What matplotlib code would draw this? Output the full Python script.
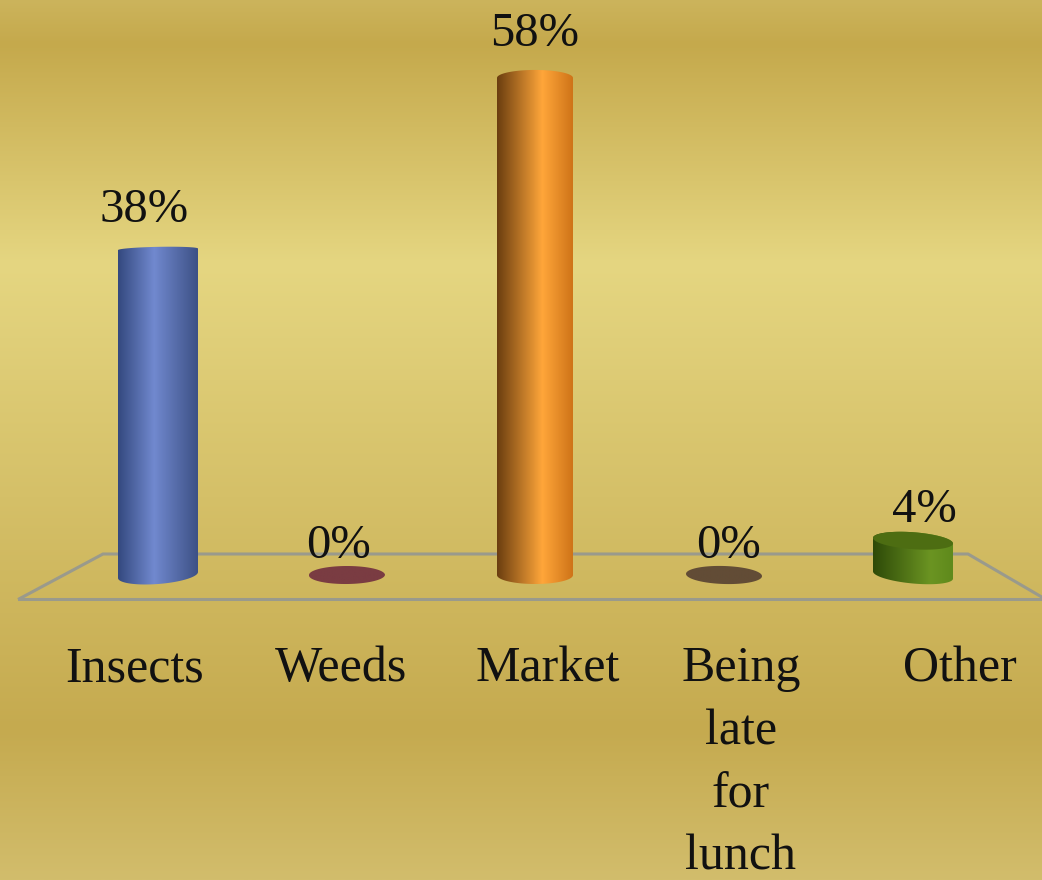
import numpy as np
import matplotlib
matplotlib.use("Agg")
import matplotlib.pyplot as plt
from matplotlib.colors import LinearSegmentedColormap as LSC
from matplotlib.patches import Polygon

categories = ["Insects", "Weeds", "Market", "Being\nlate\nfor\nlunch", "Other"]
values = [38, 0, 58, 0, 4]
labels = ["38%", "0%", "58%", "0%", "4%"]

# styles and layout (pixels of the 1042x880 canvas)
side_colors = [
    ["#34497f", "#7189cf", "#3d5186"],
    ["#7a3c42", "#7a3c42", "#7a3c42"],
    ["#6b3e10", "#ffa63a", "#cf7418"],
    ["#624c36", "#624c36", "#624c36"],
    ["#2e4a08", "#6b9422", "#5f8a1c"],
]
highlight = [0.45, 0.5, 0.6, 0.5, 0.72]
bar_w = [80, 76, 76, 76, 80]
top_semi = [2.5, 9, 8, 9, 8.5]
bot_semi = [9, 9, 9, 9, 8.5]
top_slope = [-0.02, 0, 0, 0.03, 0.07]
bot_slope = [-0.075, -0.01, 0, 0.03, 0.09]
cap_color = [None, None, None, None, "#4d6d12"]
pct_x = [144.5, 338.5, 534.5, 728.5, 924.5]
pct_base = [222, 558, 46, 558, 522]
cat_x = [135, 341, 548, 741, 960]

W, H = 1042, 880
PX_X = 188.5
PX_Y = 8.57
X0, Y0 = 158, 575
center_x = [158, 347, 535, 724, 913]

fig = plt.figure(figsize=(W / 100, H / 100), dpi=100)
ax = fig.add_axes([0, 0, 1, 1])
ext = (-X0 / PX_X, (W - X0) / PX_X, (Y0 - H) / PX_Y, Y0 / PX_Y)
ax.axis("off")


def dx(x):
    return (x - X0) / PX_X


def dy(y):
    return (Y0 - y) / PX_Y


bg = LSC.from_list("bg", [(0, "#ccb45c"), (0.05, "#c5a94c"), (0.3, "#e5d681"),
                          (0.83, "#c5aa4f"), (1, "#d2bd6c")], N=1024)
ax.imshow(np.linspace(0, 1, 880)[:, None], extent=ext, cmap=bg, aspect="auto", zorder=0, origin="upper")

ax.add_patch(Polygon([(dx(18), dy(599.5)), (dx(103), dy(554)), (dx(968), dy(554)), (dx(1046), dy(599.5))],
                     closed=True, facecolor="none", edgecolor="#9a9a8c", linewidth=2.2, zorder=1))

tt = np.linspace(np.pi, 0, 60)
ring = np.linspace(0, 2 * np.pi, 120)
for i, v in enumerate(values):
    cx, w = center_x[i], bar_w[i]
    hw = w / 2
    ytop = Y0 - v * PX_Y
    xa = cx + hw * np.cos(tt)
    ya = ytop + hw * np.cos(tt) * top_slope[i] - top_semi[i] * np.sin(tt)
    xb = cx + hw * np.cos(tt[::-1])
    yb = Y0 + hw * np.cos(tt[::-1]) * bot_slope[i] + bot_semi[i] * np.sin(tt[::-1])
    poly = Polygon(np.column_stack([dx(np.r_[xa, xb]), dy(np.r_[ya, yb])]),
                   closed=True, facecolor="none", edgecolor="none", zorder=3)
    ax.add_patch(poly)
    cmap = LSC.from_list("c", [(0, side_colors[i][0]), (highlight[i], side_colors[i][1]), (1, side_colors[i][2])])
    im = ax.imshow(np.linspace(0, 1, 128)[None, :],
                   extent=(dx(cx - hw), dx(cx + hw), dy(Y0 + 15), dy(ytop - 15)),
                   cmap=cmap, aspect="auto", zorder=3)
    im.set_clip_path(poly)
    if cap_color[i]:
        xc = cx + hw * np.cos(ring)
        yc = ytop + hw * np.cos(ring) * top_slope[i] - top_semi[i] * np.sin(ring)
        ax.add_patch(Polygon(np.column_stack([dx(xc), dy(yc)]), closed=True,
                             facecolor=cap_color[i], edgecolor="none", zorder=4))

ax.set_xlim(ext[0], ext[1])
ax.set_ylim(ext[2], ext[3])
ax.set_aspect("auto")

for s, xp, yp in zip(labels, pct_x, pct_base):
    ax.text(dx(xp), dy(yp), s, ha="center", va="baseline", zorder=5,
            family="Liberation Serif", color="#111111", fontsize=35)
for c, xp in zip(categories, cat_x):
    ax.text(dx(xp), dy(646), c, ha="center", va="top", linespacing=1.46, zorder=5,
            family="Liberation Serif", color="#111111", fontsize=36)

fig.savefig("out.png", dpi=100)
